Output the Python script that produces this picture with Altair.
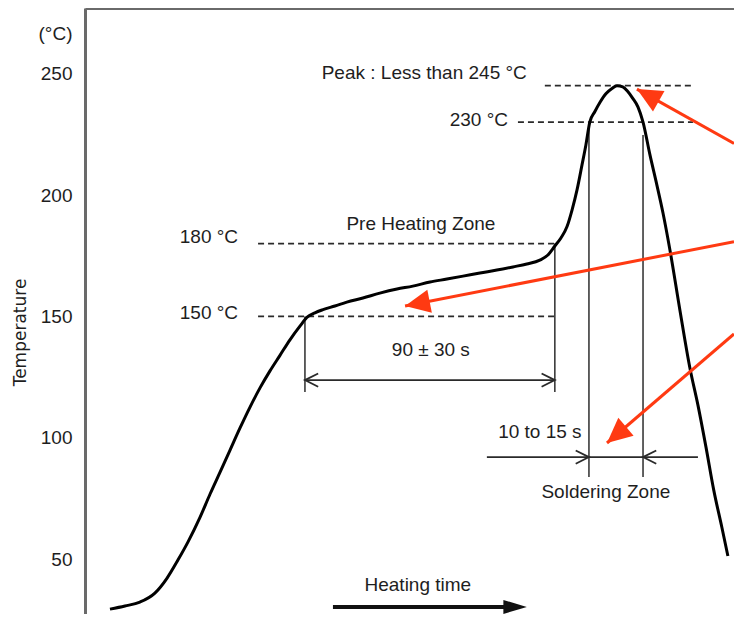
import altair as alt
import pandas as pd

FONT = "Liberation Sans"
INK = "#1e1e1e"
RED = "#ff3a12"

# ---- reflow profile curve (time in s, temperature in °C) ----
curve_time = [9.0, 14.4, 19.8, 25.2, 29.6, 33.5, 37.1, 41.5, 45.1, 48.7, 52.3, 55.9, 59.5, 63.1,
              66.7, 70.3, 73.9, 77.5, 80.0, 82.9, 85.8, 90.1, 94.4, 100.2, 106.3, 112.5, 118.2,
              124.4, 130.5, 136.3, 142.4, 148.5, 154.3, 159.3, 164.0, 166.9, 169.4, 171.6, 173.8,
              175.6, 177.4, 179.2, 180.6, 182.0, 183.8, 185.7, 187.8, 190.0, 191.8, 193.9, 195.7,
              197.5, 199.4, 201.2, 203.7, 206.2, 208.4, 210.9, 214.5, 218.1, 221.0, 223.9, 226.7,
              229.6, 231.8]
curve_temp = [29.5, 30.8, 32.4, 36.1, 42.3, 49.7, 57.1, 67.4, 76.9, 85.9, 95.0, 104.1, 112.7, 120.6,
              127.6, 134.0, 140.4, 146.0, 149.6, 151.5, 152.8, 154.3, 155.9, 157.6, 159.6, 161.3, 162.5,
              164.2, 165.4, 166.6, 167.9, 169.1, 170.4, 171.6, 173.2, 175.3, 179.0, 182.3, 187.0,
              193.8, 202.1, 212.4, 220.6, 230.0, 234.3, 238.2, 241.7, 243.9, 245.0, 244.5, 242.6,
              239.8, 236.2, 230.0, 216.5, 204.1, 192.6, 177.4, 152.6, 128.8, 113.5, 96.2, 78.5,
              63.3, 51.4]

# ---- dashed threshold lines ----
thr_temp = [245, 230, 180, 150]
thr_start = [165.8, 156.1, 62.4, 62.4]
thr_end = [219.2, 219.2, 169.4, 169.4]

# ---- thin vertical guides ----
guide_time = [79.3, 169.4, 181.7, 201.2]
guide_top = [150, 180, 230, 224.7]
guide_bottom = [118.9, 118.9, 83.9, 83.9]

# ---- dimension lines ----
dim_temp = [123.8, 92.1]
dim_start = [79.3, 144.9]
dim_end = [169.4, 221.0]
chev_time = [79.3, 169.4, 181.7, 201.2]
chev_temp = [123.8, 123.8, 92.1, 92.1]
chev_angle = [180, 0, 0, 180]

# ---- heating time arrow ----
heat_temp = [30.4]
heat_start = [89.4]
heat_end = [152.0]
heat_tip = [159.3]

# ---- red pointer arrows ----
red_from_time = [234, 234, 234]
red_from_temp = [221.2, 180.8, 142.8]
red_to_time = [199.0, 115.4, 188.2]
red_to_temp = [243.6, 154.3, 97.9]
red_angle = [299.3, 258.9, 229.4]

# ---- texts ----
rtext = ["Peak : Less than 245 °C", "230 °C", "180 °C", "150 °C"]
rtext_time = [159.3, 152.5, 55.2, 55.2]
rtext_temp = [250.2, 230.9, 182.7, 151.4]
ctext = ["Pre Heating Zone", "90 ± 30 s", "10 to 15 s", "Soldering Zone", "Heating time"]
ctext_time = [121.1, 124.7, 164.0, 187.8, 120.0]
ctext_temp = [188.1, 136.2, 102.4, 77.7, 39.4]

tick_values = [50, 100, 150, 200, 250, 266.5]

xscale = alt.Scale(domain=[0, 234], nice=False, zero=False)
yscale = alt.Scale(domain=[27.5, 277], nice=False, zero=False)
xaxis = alt.Axis(orient="top", labels=False, ticks=False, grid=False, title="",
                 domainColor="#6a6a6a", domainWidth=3)
yaxis = alt.Axis(values=tick_values, labelExpr="datum.value > 260 ? '(°C)' : datum.label",
                 ticks=False, tickSize=0, grid=False, labelPadding=13,
                 labelFont=FONT, labelFontSize=19, labelColor=INK,
                 domainColor="#6a6a6a", domainWidth=3,
                 title="Temperature", titleFont="DejaVu Sans", titleFontSize=17,
                 titleFontWeight="normal", titleColor=INK, titleAngle=270,
                 titleX=-65, titleY=324, titleAlign="center", titleBaseline="middle")


def X(f):
    return alt.X(f, type="quantitative", scale=xscale, axis=xaxis)


def Y(f):
    return alt.Y(f, type="quantitative", scale=yscale, axis=yaxis)


curve_df = pd.DataFrame({"t": curve_time, "T": curve_temp})
thr_df = pd.DataFrame({"T": thr_temp, "t0": thr_start, "t1": thr_end})
guide_df = pd.DataFrame({"t": guide_time, "T0": guide_top, "T1": guide_bottom})
dim_df = pd.DataFrame({"T": dim_temp, "t0": dim_start, "t1": dim_end})
chev_df = pd.DataFrame({"t": chev_time, "T": chev_temp, "a": chev_angle})
heat_df = pd.DataFrame({"T": heat_temp, "t0": heat_start, "t1": heat_end, "tip": heat_tip})
red_df = pd.DataFrame({"t0": red_from_time, "T0": red_from_temp, "t1": red_to_time,
                       "T1": red_to_temp, "a": red_angle})
rtext_df = pd.DataFrame({"label": rtext, "t": rtext_time, "T": rtext_temp})
ctext_df = pd.DataFrame({"label": ctext, "t": ctext_time, "T": ctext_temp})

thresholds = alt.Chart(thr_df).mark_rule(color="#2a2a2a", strokeWidth=1.8, strokeDash=[6, 4]).encode(
    x=X("t0"), x2="t1", y=Y("T"))

guides = alt.Chart(guide_df).mark_rule(color="#3a3a3a", strokeWidth=1.6).encode(
    x=X("t"), y=Y("T0"), y2="T1")

dims = alt.Chart(dim_df).mark_rule(color="#2a2a2a", strokeWidth=1.8).encode(
    x=X("t0"), x2="t1", y=Y("T"))

chevrons = alt.Chart(chev_df).mark_point(
    shape="M-1,-0.5L0,0L-1,0.5", filled=False, size=700, color="#2a2a2a", strokeWidth=1.8, opacity=1
).encode(x=X("t"), y=Y("T"), angle=alt.Angle("a:Q", scale=None))

curve = alt.Chart(curve_df).mark_line(color="#000000", strokeWidth=3, interpolate="monotone").encode(
    x=X("t"), y=Y("T"))

heat_line = alt.Chart(heat_df).mark_rule(color="#111111", strokeWidth=4).encode(
    x=X("t0"), x2="t1", y=Y("T"))
heat_head = alt.Chart(heat_df).mark_point(
    shape="M0,0L-1,-0.3L-1,0.3Z", filled=True, size=2200, color="#111111", opacity=1
).encode(x=X("tip"), y=Y("T"))

red_lines = alt.Chart(red_df).mark_rule(color=RED, strokeWidth=3).encode(
    x=X("t0"), y=Y("T0"), x2="t1", y2="T1")
red_heads = alt.Chart(red_df).mark_point(
    shape="M0,0L-0.47,1L0.47,1Z", filled=True, size=2500, color=RED, opacity=1
).encode(x=X("t1"), y=Y("T1"), angle=alt.Angle("a:Q", scale=None))

rtexts = alt.Chart(rtext_df).mark_text(
    font=FONT, fontSize=19, color=INK, align="right", baseline="middle"
).encode(x=X("t"), y=Y("T"), text="label:N")
ctexts = alt.Chart(ctext_df).mark_text(
    font=FONT, fontSize=19, color=INK, align="center", baseline="middle"
).encode(x=X("t"), y=Y("T"), text="label:N")

chart = alt.layer(
    thresholds, guides, dims, chevrons, curve, heat_line, heat_head, red_lines, red_heads,
    rtexts, ctexts
).properties(
    width=649, height=606,
    padding={"left": 77, "top": 0, "right": 0, "bottom": 0},
    autosize=alt.AutoSizeParams(type="none"),
    background="white",
).configure_view(stroke=None)

chart.save("out.html", embed_options={"renderer": "svg", "actions": False})
